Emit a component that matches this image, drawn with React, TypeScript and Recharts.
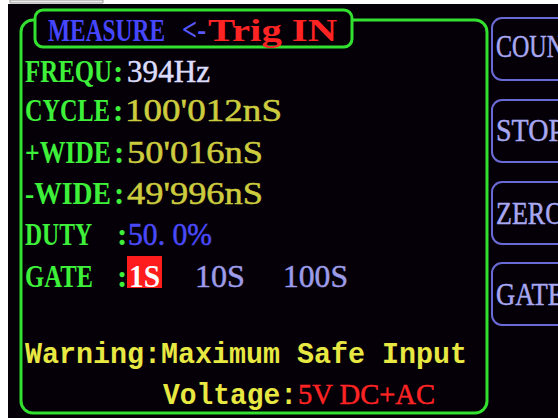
import React from 'react';
import { ScatterChart, Scatter, XAxis, YAxis, ReferenceArea } from 'recharts';

const W = 558;
const H = 418;

// screen content
const titleParts = ['MEASURE', '<-', 'Trig IN'];
const labels = ['FREQU', 'CYCLE', '+WIDE', '-WIDE', 'DUTY', 'GATE'];
const readings = ['394Hz', "100'012nS", "50'016nS", "49'996nS", '50. 0%', ''];
const gateOptions = ['1S', '10S', '100S'];
const selectedGate = '1S';
const softKeys = ['COUN', 'STOP', 'ZERO', 'GATE'];
const warningText = 'Warning:Maximum Safe Input';
const voltageLabel = 'Voltage:';
const maxInput = '5V DC+AC';

// layout (pixels on the 558x418 screen)
const ROW_Y = [82, 121, 163, 204, 245, 287];
const LABEL_W = [87, 85, 86, 86, 67, 68];
const COLON_X = [113, 113, 114, 114, 117, 117];
const VALUE_X = [127, 125, 127, 127, 128, 0];
const VALUE_W = [83, 157, 136, 136, 84, 0];
const GATE_X = [129, 195, 283];
const GATE_W = [31, 50, 65];
const KEY_TOP = [18, 100, 182, 263];
const KEY_Y = [57, 141, 224, 305];

const GREEN = '#3ef03a';
const VALUE_COLORS = ['#dcdcfa', '#cccc3e', '#cccc3e', '#cccc3e', '#4a4af8', '#fff'];
const SERIF = '"Liberation Serif", "DejaVu Serif", serif';
const MONO = '"Liberation Mono", "DejaVu Sans Mono", monospace';

type Item = {
  x: number;
  y: number;
  text: string;
  color: string;
  size: number;
  width?: number;
  font?: string;
  bold?: boolean;
};

const items: Item[] = [];

// title
items.push({ x: 48, y: 41, text: titleParts[0], color: '#4646ff', size: 32, width: 117, bold: true });
items.push({ x: 182, y: 40, text: titleParts[1], color: '#5858ff', size: 31, width: 24, bold: true });
items.push({ x: 208, y: 41, text: titleParts[2], color: '#ff2424', size: 32, width: 129, bold: true });

labels.forEach((label, i) => {
  items.push({ x: 25, y: ROW_Y[i], text: label, color: GREEN, size: 31, width: LABEL_W[i], bold: true });
  items.push({ x: COLON_X[i], y: ROW_Y[i], text: ':', color: GREEN, size: 31, bold: true });
  if (readings[i]) {
    items.push({ x: VALUE_X[i], y: ROW_Y[i], text: readings[i], color: VALUE_COLORS[i], size: 31, width: VALUE_W[i] });
  }
});

gateOptions.forEach((g, i) => {
  items.push({
    x: GATE_X[i], y: 287, text: g, color: g === selectedGate ? '#ffffff' : '#9c9ce8',
    size: 31, width: GATE_W[i], bold: g === selectedGate,
  });
});

softKeys.forEach((k, i) => {
  items.push({ x: 496, y: KEY_Y[i], text: k, color: '#a8a8f2', size: 31, width: 68 });
});

items.push({ x: 25, y: 363, text: warningText, color: '#e8e842', size: 29, font: MONO, bold: true, width: 442 });
items.push({ x: 163, y: 404, text: voltageLabel, color: '#e8e842', size: 29, font: MONO, bold: true, width: 134 });
items.push({ x: 298, y: 404, text: maxInput, color: '#ff2424', size: 30, font: SERIF, width: 137 });

const TextShape = (props: any) => {
  const { cx, cy, payload } = props;
  const p = payload as Item;
  return (
    <text
      x={cx}
      y={cy}
      fill={p.color}
      stroke={p.bold ? 'none' : p.color}
      strokeWidth={0.5}
      fontSize={p.size}
      fontFamily={p.font || SERIF}
      fontWeight={p.bold ? 'bold' : 'normal'}
      textLength={p.width}
      lengthAdjust={p.width ? 'spacingAndGlyphs' : undefined}
    >
      {p.text}
    </text>
  );
};

export default function App() {
  return (
    <div style={{ position: 'absolute', left: 0, top: 0, width: W, height: H, background: '#fff' }}>
      <ScatterChart width={W} height={H} margin={{ top: 0, right: 0, bottom: 0, left: 0 }}>
        <XAxis type="number" dataKey="x" domain={[0, W]} hide allowDataOverflow />
        <YAxis type="number" dataKey="y" domain={[0, H]} reversed hide allowDataOverflow />
        <ReferenceArea x1={8} x2={W} y1={4} y2={H} fill="#050008" fillOpacity={1} stroke="none" ifOverflow="visible" />
        <ReferenceArea x1={10} x2={103} y1={0} y2={3} fill="#ececec" fillOpacity={1} stroke="#9a9a9a" ifOverflow="visible" />
        <ReferenceArea
          x1={21} x2={487} y1={20} y2={413}
          fill="none" stroke="#33e030" strokeWidth={3} radius={12} ifOverflow="visible"
        />
        <ReferenceArea
          x1={35} x2={352} y1={10} y2={47}
          fill="#050008" fillOpacity={1} stroke="#33e030" strokeWidth={3} radius={8} ifOverflow="visible"
        />
        {KEY_TOP.map((t) => (
          <ReferenceArea
            key={t}
            x1={492} x2={W + 30} y1={t} y2={t + 62}
            fill="none" stroke="#6a6ad6" strokeWidth={2} radius={10} ifOverflow="visible"
          />
        ))}
        <ReferenceArea x1={127} x2={162} y1={256} y2={288} fill="#ff1c1c" fillOpacity={1} stroke="none" ifOverflow="visible" />
        <Scatter data={items} shape={TextShape} isAnimationActive={false} />
      </ScatterChart>
    </div>
  );
}
